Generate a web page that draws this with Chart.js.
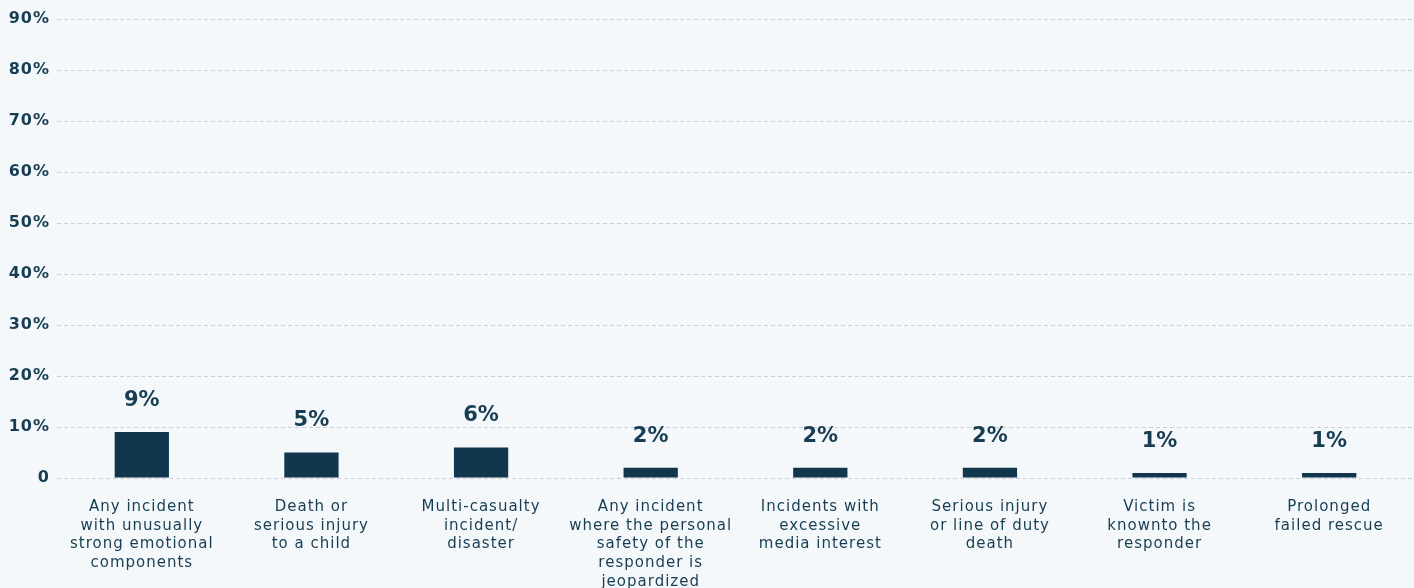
<!DOCTYPE html>
<html>
<head>
<meta charset="utf-8">
<script src="https://cdn.jsdelivr.net/npm/chart.js@4"></script>
<style>
  html, body { margin: 0; padding: 0; background: #f5f8fb; }
  #wrap { width: 1414px; height: 588px; }
</style>
</head>
<body>
<div id="wrap"><canvas id="js_incidentChart"></canvas></div>
<script>
// chart data
const categories = [
  ['Any incident', 'with unusually', 'strong emotional', 'components'],
  ['Death or', 'serious injury', 'to a child'],
  ['Multi-casualty', 'incident/', 'disaster'],
  ['Any incident', 'where the personal', 'safety of the', 'responder is', 'jeopardized'],
  ['Incidents with', 'excessive', 'media interest'],
  ['Serious injury', 'or line of duty', 'death'],
  ['Victim is', 'knownto the', 'responder'],
  ['Prolonged', 'failed rescue'],
];
const percentValues = [9, 5, 6, 2, 2, 2, 1, 1];
const yTicks = [0, 10, 20, 30, 40, 50, 60, 70, 80, 90];

const barColor = '#10374c';
const textColor = '#163d52';
const fontFamily = '"DejaVu Sans", sans-serif';

// wider letter spacing, the original font runs wide
const spacing = {
  id: 'spacing',
  beforeLayout: (chart) => { chart.ctx.letterSpacing = '1px'; },
  beforeDraw: (chart) => { chart.ctx.letterSpacing = '1px'; },
};

// value labels over the bars
const valueLabels = {
  id: 'valueLabels',
  afterDatasetsDraw: (chart) => {
    const { ctx } = chart;
    const meta = chart.getDatasetMeta(0);
    ctx.save();
    ctx.letterSpacing = '0px';
    ctx.fillStyle = textColor;
    ctx.font = `bold 21px ${fontFamily}`;
    ctx.textAlign = 'center';
    ctx.textBaseline = 'bottom';
    meta.data.forEach((bar, i) => {
      ctx.fillText(`${percentValues[i]}%`, bar.x, bar.y - 21);
    });
    ctx.restore();
  },
};

document.addEventListener('DOMContentLoaded', () => {
  const ctx = document.getElementById('js_incidentChart');

  new Chart(ctx, {
    type: 'bar',
    data: {
      labels: categories,
      datasets: [{
        data: percentValues,
        backgroundColor: barColor,
        categoryPercentage: 1,
        barPercentage: 0.32,
      }],
    },
    options: {
      responsive: true,
      maintainAspectRatio: false,
      animation: false,
      layout: { padding: { top: 19, left: 9, right: 0, bottom: 0 } },
      plugins: {
        legend: { display: false },
        tooltip: { enabled: false },
      },
      scales: {
        x: {
          afterFit: (axis) => { axis.height = 110; },
          grid: { display: false, drawTicks: false },
          border: { display: false },
          ticks: {
            color: textColor,
            font: { family: fontFamily, size: 15, lineHeight: 1.24 },
            padding: 20,
            maxRotation: 0,
            autoSkip: false,
          },
        },
        y: {
          min: 0,
          max: 90,
          afterFit: (axis) => { axis.width = 48; },
          afterBuildTicks: (axis) => {
            axis.ticks = yTicks.map(v => ({ value: v }));
          },
          grid: {
            color: '#c9cfd6',
            drawTicks: false,
          },
          border: { display: false, dash: [4, 3] },
          ticks: {
            color: textColor,
            font: { family: fontFamily, size: 16, weight: 'bold' },
            padding: 7,
            callback: v => (v === 0 ? '0' : `${v}%`),
          },
        },
      },
    },
    plugins: [spacing, valueLabels],
  });
});
</script>
</body>
</html>
